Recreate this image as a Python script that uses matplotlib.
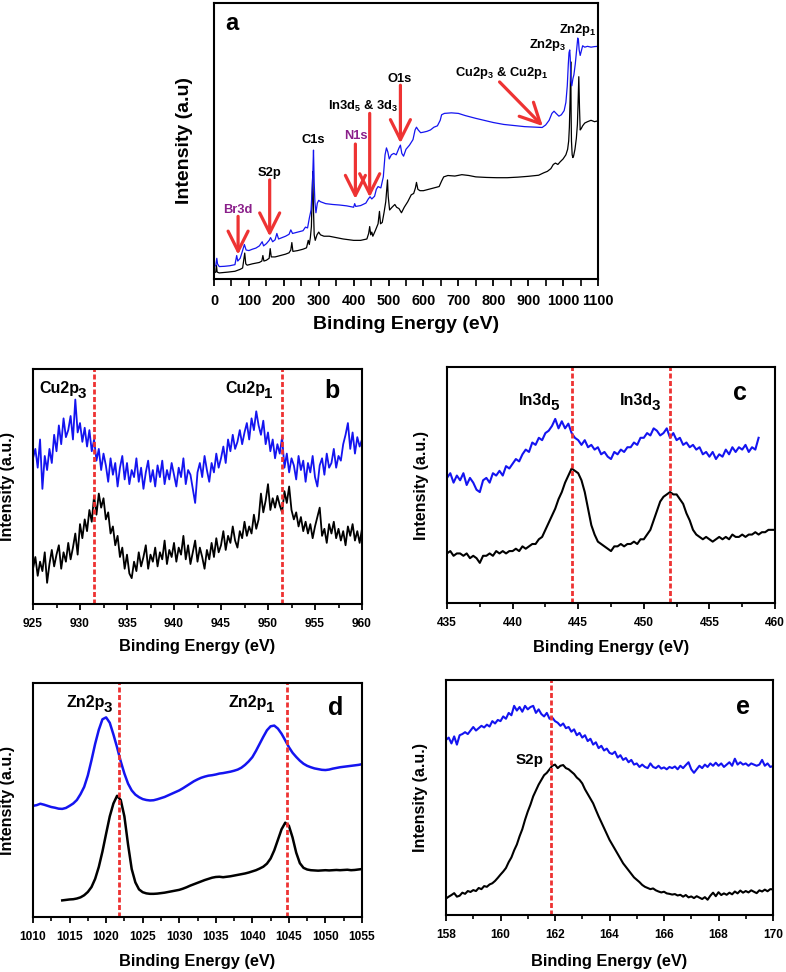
import numpy as np
import matplotlib
matplotlib.use("Agg")
import matplotlib.pyplot as plt
from matplotlib.ticker import MultipleLocator, NullLocator

plt.rcParams['font.family'] = ['Liberation Sans', 'DejaVu Sans']
plt.rcParams['font.weight'] = 'bold'
plt.rcParams['mathtext.fontset'] = 'custom'
plt.rcParams['mathtext.rm'] = 'Liberation Sans:bold'
plt.rcParams['mathtext.it'] = 'Liberation Sans:bold'
plt.rcParams['mathtext.bf'] = 'Liberation Sans:bold'

BLUE = '#1414f0'
BLACK = '#000000'
RED = '#ee3333'
PURPLE = '#8a1f8a'

# ---------------- panel a: survey spectra ----------------
survey_blue_e = [0, 5, 8, 10, 15, 30, 45, 60, 65, 68, 75, 80, 87, 92, 100, 110, 120, 130, 138, 142,
                 150, 158, 162, 168, 175, 180, 185, 195, 205, 215, 220, 225, 240, 255, 262, 268, 273, 278,
                 281, 283, 285, 287, 289, 292, 296, 300, 305, 320, 340, 360, 380, 400, 403, 406, 420, 435,
                 442, 447, 452, 460, 465, 470, 478, 485, 490, 494, 498, 502, 508, 515, 522, 530, 534, 538,
                 543, 550, 560, 570, 576, 580, 585, 592, 600, 610, 620, 630, 640, 648, 652, 660, 680, 700,
                 720, 750, 780, 800, 830, 860, 890, 920, 940, 950, 960, 968, 974, 980, 988, 995, 1003, 1008,
                 1012, 1015, 1017, 1019, 1020.5, 1022, 1025, 1028, 1031, 1035, 1038, 1040, 1042, 1044, 1046,
                 1049, 1052, 1056, 1062, 1070, 1080, 1090, 1100]
survey_blue_i = [4.6, 4.8, 7.5, 5.5, 4.5, 4.6, 4.8, 5.2, 8.5, 6.5, 7.5, 9.5, 12.5, 10.5, 10.3, 10.8, 11.2, 12.0, 13.5, 12.0,
                 12.8, 14.0, 15.0, 13.5, 14.2, 16.5, 14.5, 15.0, 15.5, 16.2, 17.8, 16.5, 17.0, 17.5, 18.8, 18.5, 22.0, 25.0,
                 32.0, 38.0, 46.7, 35.0, 28.0, 24.0, 27.5, 28.5, 28.0, 27.3, 27.0, 26.8, 26.5, 26.0, 27.3, 26.3, 26.6, 27.5,
                 29.0, 29.8, 29.0, 30.0, 32.5, 33.5, 33.0, 37.0, 45.0, 47.5, 46.0, 43.5, 45.0, 45.5, 45.0, 47.5, 48.5, 45.5,
                 44.5, 47.0, 48.5, 50.5, 54.0, 55.0, 54.0, 53.0, 53.2, 53.5, 54.0, 55.0, 55.5, 57.5, 59.5, 60.0, 60.2, 60.0,
                 59.2, 58.2, 57.3, 56.7, 56.0, 55.6, 55.2, 55.0, 54.9, 55.8, 57.5, 60.0, 60.8, 60.0, 59.0, 59.5, 61.0, 64.0,
                 70.0, 78.0, 82.0, 83.0, 80.0, 72.0, 70.0, 72.5, 74.0, 78.0, 82.0, 85.0, 87.3, 86.5, 83.0,
                 81.0, 82.5, 84.5, 84.0, 84.3, 84.0, 84.2, 84.3]

survey_black_e = [0, 5, 7, 9, 15, 40, 60, 75, 82, 86, 88, 91, 95, 110, 130, 137, 140, 143, 150, 158,
                  161, 164, 175, 190, 205, 215, 220, 223, 226, 240, 255, 265, 270, 273, 276, 279, 281, 283,
                  285, 287, 290, 295, 300, 305, 315, 330, 350, 370, 400, 420, 438, 443, 446, 449, 452, 455,
                  462, 470, 474, 477, 482, 487, 492, 495, 497, 499, 503, 510, 518, 523, 530, 537, 545, 555,
                  565, 572, 577, 580, 584, 590, 600, 615, 630, 645, 652, 658, 670, 690, 710, 730, 750, 780,
                  810, 840, 870, 900, 930, 945, 955, 965, 972, 978, 985, 992, 1000, 1008, 1013, 1016, 1018,
                  1020, 1022, 1023, 1024, 1026, 1028, 1030, 1034, 1038, 1041, 1043, 1045, 1047, 1049, 1052,
                  1056, 1062, 1070, 1080, 1090, 1100]
survey_black_i = [2.2, 2.5, 5.0, 2.5, 2.2, 2.5, 2.8, 3.5, 4.0, 7.5, 9.4, 5.5, 5.0, 5.5, 6.0, 6.5, 8.5, 6.5, 6.8, 7.5,
                  11.0, 8.0, 8.0, 8.5, 9.0, 9.5, 10.5, 13.2, 10.0, 10.3, 10.8, 11.3, 14.0, 12.5, 15.0, 19.0, 30.0, 38.9,
                  25.0, 16.0, 14.0, 16.0, 17.0, 16.0, 15.5, 15.5, 15.0, 14.5, 14.0, 14.0, 14.5, 16.5, 19.0, 16.0, 17.0, 15.5,
                  17.5, 20.0, 24.5, 20.0, 20.5, 24.0, 28.0, 33.0, 35.9, 30.0, 25.0, 26.0, 27.0, 26.0, 25.5, 24.0, 26.0, 28.0,
                  30.5, 31.0, 33.0, 35.0, 32.5, 32.0, 32.0, 32.5, 33.0, 33.5, 35.5, 37.0, 37.5, 37.3, 37.8, 37.5, 37.0, 36.8,
                  36.7, 36.7, 36.9, 37.2, 37.6, 38.5, 39.0, 40.0, 41.5, 42.0, 41.5, 42.5, 43.5, 45.0, 47.0, 50.0, 55.0,
                  65.0, 78.7, 60.0, 50.0, 45.0, 44.0, 44.5, 47.0, 51.0, 56.0, 64.0, 73.3, 62.0, 54.0, 54.5,
                  55.5, 56.5, 57.0, 57.5, 57.0, 57.3]

# ---------------- panel b: Cu 2p ----------------
cu_start, cu_stop, cu_step = 925.0, 960.0, 0.25
cu_blue = [62, 66, 58, 70, 49, 63, 57, 66, 60, 72, 65, 76, 68, 79, 71, 74, 80, 70, 87, 73,
           77, 69, 75, 67, 74, 65, 70, 61, 66, 57, 64, 59, 52, 62, 55, 60, 50, 58, 63, 53,
           60, 51, 57, 54, 62, 52, 58, 49, 56, 61, 52, 57, 50, 59, 54, 61, 51, 57, 53, 60,
           55, 50, 58, 54, 62, 51, 57, 55, 49, 43, 56, 60, 54, 63, 57, 52, 60, 56, 64, 58,
           62, 67, 60, 70, 65, 72, 66, 69, 74, 68, 73, 77, 70, 79, 74, 82, 76, 72, 78, 68,
           73, 65, 70, 62, 68, 64, 71, 58, 64, 56, 62, 59, 53, 63, 57, 61, 52, 60, 56, 63,
           54, 50, 59, 62, 55, 64, 58, 60, 66, 58, 63, 61, 68, 72, 77, 66, 73, 64, 71, 67, 70]
cu_black = [15, 20, 12, 18, 14, 22, 9, 17, 23, 16, 21, 25, 15, 22, 18, 26, 19, 24, 30, 21,
            34, 28, 36, 31, 40, 35, 46, 38, 47, 41, 45, 36, 39, 30, 33, 25, 29, 20, 24, 15,
            21, 13, 11, 18, 14, 22, 16, 20, 25, 15, 21, 18, 24, 16, 22, 19, 27, 17, 23, 20,
            26, 18, 24, 21, 29, 19, 25, 17, 22, 27, 18, 24, 20, 15, 23, 19, 26, 20, 28, 22,
            25, 31, 23, 29, 26, 33, 27, 24, 31, 28, 35, 29, 33, 30, 38, 32, 36, 47, 39, 44,
            51, 40, 45, 41, 46, 42, 39, 48, 43, 50, 40, 36, 39, 33, 37, 31, 35, 30, 34, 28,
            33, 37, 41, 29, 32, 26, 34, 30, 35, 28, 32, 27, 31, 25, 33, 29, 34, 27, 31, 26, 32]
cu_lines = [931.5, 951.5]

# ---------------- panel c: In 3d ----------------
in_step = 0.25
in_blue_start, in_blue_stop = 435.0, 458.75
in_blue = [53, 55, 51, 54, 52, 55, 50, 53, 51, 48, 47, 52, 53, 51, 55, 54, 56, 54, 58, 57,
           59, 61, 60, 63, 65, 64, 68, 67, 70, 69, 72, 73, 75, 78, 74, 77, 74, 76, 72, 70,
           69, 67, 69, 66, 67, 65, 66, 63, 64, 62, 61, 64, 63, 65, 64, 66, 66, 68, 67, 70,
           70, 72, 71, 74, 73, 71, 72, 74, 70, 72, 69, 70, 67, 68, 66, 67, 65, 66, 63, 64,
           62, 64, 61, 63, 62, 65, 63, 66, 64, 66, 65, 67, 64, 66, 65, 70]
in_black_start, in_black_stop = 435.0, 460.0
in_black = [21, 22, 20, 21, 21, 20, 21, 19, 20, 19, 17, 20, 20, 21, 20, 22, 21, 22, 21, 22,
            22, 23, 22, 24, 23, 24, 25, 25, 27, 28, 31, 34, 37, 40, 44, 47, 51, 54, 57, 56,
            55, 52, 47, 40, 33, 29, 26, 25, 24, 23, 22, 24, 24, 25, 24, 25, 25, 26, 25, 27,
            27, 29, 31, 35, 39, 43, 45, 46, 47, 46, 46, 44, 42, 38, 35, 31, 29, 28, 27, 28,
            27, 26, 27, 28, 27, 28, 27, 29, 28, 28, 29, 28, 29, 29, 30, 29, 30, 30, 31, 31, 31]
in_lines = [444.5, 452.0]

# ---------------- panel d: Zn 2p ----------------
zn_step = 0.5
zn_blue_start, zn_blue_stop = 1010.0, 1055.0
zn_blue = [47.5, 47.8, 48.4, 48.0, 47.5, 47.0, 46.7, 46.3, 46.2, 46.6, 47.5, 48.5, 50.0, 52.5, 55.6, 60.5,
           67.0, 74.0, 80.0, 84.5, 85.3, 83.0, 78.0, 72.5, 66.5, 61.3, 57.0, 54.1, 52.3, 51.2, 50.4, 50.0,
           49.8, 49.9, 50.3, 50.8, 51.3, 52.0, 52.7, 53.4, 54.1, 55.0, 56.0, 57.0, 58.0, 58.8, 59.5, 60.0,
           60.4, 60.6, 60.9, 61.3, 61.5, 61.8, 62.1, 62.5, 63.0, 63.8, 65.0, 66.5, 68.3, 71.0, 74.0, 77.0,
           79.8, 81.5, 81.8, 80.5, 78.3, 75.5, 72.6, 70.2, 68.4, 66.8, 65.5, 64.6, 64.0, 63.5, 63.2, 62.9,
           62.8, 63.0, 63.4, 63.7, 64.0, 64.2, 64.4, 64.6, 64.8, 65.0, 65.3]
zn_black_start, zn_black_stop = 1014.0, 1055.0
zn_black = [7.1, 7.3, 7.5, 7.6, 7.9, 8.4, 9.3, 10.7, 12.8, 16.3, 21.4, 28.0, 35.6, 43.0, 48.5, 51.8,
            50.0, 43.0, 31.0, 20.5, 14.8, 11.8, 10.6, 10.1, 9.9, 9.9, 10.0, 10.2, 10.4, 10.7, 11.0, 11.3,
            11.6, 12.1, 12.7, 13.4, 14.0, 14.6, 15.2, 15.8, 16.3, 16.8, 17.1, 17.2, 17.0, 17.2, 17.4, 17.7,
            18.0, 18.3, 18.6, 19.0, 19.5, 20.0, 20.7, 21.5, 22.8, 25.0, 28.5, 33.0, 37.5, 40.3, 39.0, 34.0,
            27.5, 23.0, 21.0, 20.3, 20.0, 19.9, 19.8, 19.9, 20.0, 19.9, 20.0, 20.1, 20.0, 20.1, 20.2, 20.0,
            20.1, 20.3, 20.5]
zn_lines = [1021.7, 1044.7]

# ---------------- panel e: S 2p ----------------
s_start, s_stop, s_step = 158.0, 170.0, 0.1
s_blue = [74.5, 75.5, 73.0, 76.0, 72.5, 76.5, 77.0, 77.8, 77.0, 78.5, 80.0, 78.5, 79.5, 80.5, 79.8, 81.0,
          80.2, 82.5, 81.5, 83.0, 82.5, 84.5, 83.5, 86.0, 85.0, 89.0, 87.0, 88.5, 86.5, 89.0, 87.5, 88.5,
          89.0, 86.0, 87.5, 85.5, 84.5, 86.0, 83.5, 84.0, 82.5, 81.8, 80.5, 81.5, 79.5, 80.0, 78.0, 79.0,
          76.5, 77.5, 75.5, 76.5, 74.0, 75.0, 72.5, 73.5, 71.0, 72.0, 70.0, 70.8, 69.0, 68.5, 69.5, 67.0,
          68.0, 66.0, 66.8, 65.0, 66.0, 64.0, 64.5, 63.0, 64.0, 63.0, 62.5, 64.5, 63.0, 62.5, 63.5, 62.3,
          62.8, 62.0, 63.0, 62.5, 63.2, 62.0, 63.5, 62.5, 63.8, 65.0, 62.0, 60.5, 62.0, 63.5, 62.5, 64.0,
          63.0, 64.5, 63.5, 64.8, 63.5, 64.5, 63.0, 64.0, 65.0, 63.5, 66.5, 64.0, 65.0, 64.0, 64.5, 63.5,
          64.5, 64.0, 63.5, 64.0, 66.0, 63.5, 64.5, 63.0, 63.4]
s_black = [7.0, 7.8, 8.5, 9.3, 7.8, 8.2, 9.5, 9.0, 10.2, 9.8, 10.6, 10.2, 11.5, 11.0, 12.3, 12.0,
           13.0, 13.5, 14.5, 15.8, 17.2, 18.5, 20.0, 22.5, 24.5, 27.5, 30.0, 33.5, 36.5, 40.5, 44.0, 47.0,
           50.5, 53.0, 55.5, 57.5, 59.5, 60.5, 62.0, 63.5, 64.0, 62.5, 63.5, 63.8, 62.5, 62.0, 61.0, 60.0,
           58.5, 57.5, 56.0, 53.5, 51.5, 49.5, 47.5, 44.7, 42.0, 39.5, 37.0, 34.5, 32.0, 30.0, 28.0, 26.0,
           24.0, 22.0, 20.5, 19.0, 17.5, 16.0, 15.0, 14.0, 12.8, 12.0, 11.5, 11.0, 11.3, 10.5, 10.0, 9.6,
           9.9, 9.2, 9.0, 8.7, 8.9, 8.3, 8.6, 7.8, 8.5, 7.5, 7.9, 7.2, 8.0, 7.4, 6.8, 7.6,
           6.5, 8.2, 9.5, 8.0, 9.7, 8.5, 9.2, 8.6, 9.5, 8.8, 10.0, 9.2, 10.4, 9.5, 10.2, 9.6,
           10.5, 9.9, 9.3, 10.5, 10.0, 10.8, 10.1, 11.0, 10.9]
s_lines = [161.85]


def grid(start, stop, step):
    return np.arange(start, stop + step / 2, step)


W, H = 786, 972
fig = plt.figure(figsize=(W / 100, H / 100), dpi=100)


def px_axes(left, top, right, bottom):
    return fig.add_axes([left / W, 1 - bottom / H, (right - left) / W, (bottom - top) / H])


def style(ax, xlim, major, minor, tick_fs, maj_len, min_len, pad, xl_fs, xl_y, yl_fs, yl_text):
    ax.set_xlim(*xlim)
    ax.set_ylim(0, 100)
    ax.xaxis.set_major_locator(MultipleLocator(major))
    ax.xaxis.set_minor_locator(MultipleLocator(minor))
    ax.yaxis.set_major_locator(NullLocator())
    ax.tick_params(axis='x', which='major', direction='out', length=maj_len, width=1.3,
                   labelsize=tick_fs, pad=pad)
    ax.tick_params(axis='x', which='minor', direction='out', length=min_len, width=1.2)
    for s in ax.spines.values():
        s.set_linewidth(1.5)
    ax.set_xlabel('Binding Energy (eV)', fontsize=xl_fs, fontweight='bold')
    ax.xaxis.set_label_coords(0.5, xl_y)
    ax.set_ylabel(yl_text, fontsize=yl_fs, fontweight='bold')
    ax.yaxis.set_label_coords(-0.055, 0.5)


# ---- panel a ----
axa = px_axes(214, 3, 598, 279)
axa.plot(survey_black_e, survey_black_i, color=BLACK, lw=0.9)
axa.plot(survey_blue_e, survey_blue_i, color=BLUE, lw=0.9)
style(axa, (0, 1100), 100, 50, 10.4, 5, 5, 6, 14, -0.135, 14, 'Intensity (a.u)')
axa.text(0.047, 0.927, 'a', transform=axa.transAxes, fontsize=17, fontweight='bold',
         ha='center', va='center')

a_labels = [('Br3d', 68, 25.0, PURPLE), ('S2p', 160, 38.3, BLACK), ('C1s', 284, 50.4, BLACK),
            ('N1s', 406, 51.8, PURPLE), (r'In3d$_5$ & 3d$_3$', 427, 62.4, BLACK),
            ('O1s', 532, 72.3, BLACK), (r'Cu2p$_3$ & Cu2p$_1$', 823, 74.7, BLACK),
            (r'Zn2p$_3$', 957, 84.7, BLACK), (r'Zn2p$_1$', 1043, 90.1, BLACK)]
for txt, x, y, c in a_labels:
    axa.text(x, y, txt, color=c, fontsize=9.3, fontweight='bold', ha='center', va='center')

a_arrows = [((69, 22.7), (69, 8.8)), ((159.5, 35.9), (159.5, 15.4)), ((405, 48.9), (405, 29.0)),
            ((446, 60.0), (446, 29.6)), ((534, 70.2), (534, 49.2)), ((818, 71.4), (942, 55.4))]
for tail, tip in a_arrows:
    axa.annotate('', xy=tip, xytext=tail,
                 arrowprops=dict(arrowstyle='->,head_length=0.6,head_width=0.3', color=RED, lw=2.3,
                                 mutation_scale=24, shrinkA=0, shrinkB=0))


def sub_label(ax, xend, y, main, sub, fs=11.5):
    ax.text(xend, y, main, transform=ax.transAxes, fontsize=fs, fontweight='bold', ha='right', va='center')
    ax.text(xend - 0.004, y - 0.022, sub, transform=ax.transAxes, fontsize=fs * 0.95, fontweight='bold',
            ha='left', va='center')


def panel_letter(ax, x, y, letter):
    ax.text(x, y, letter, transform=ax.transAxes, fontsize=18, fontweight='bold', ha='center', va='center')


def vlines(ax, xs):
    for x in xs:
        ax.axvline(x, color=RED, lw=2, ls=(0, (1.8, 0.9)))


# ---- panel b ----
axb = px_axes(33, 369, 362, 604)
xb = grid(cu_start, cu_stop, cu_step)
axb.plot(xb, cu_blue, color=BLUE, lw=1.3)
axb.plot(xb, cu_black, color=BLACK, lw=1.3)
vlines(axb, cu_lines)
style(axb, (925, 960), 5, 2.5, 8.6, 4, 3, 6, 11.8, -0.15, 11.5, 'Intensity (a.u.)')
sub_label(axb, 0.141, 0.915, 'Cu2p', '3')
sub_label(axb, 0.705, 0.915, 'Cu2p', '1')
panel_letter(axb, 0.91, 0.905, 'b')

# ---- panel c ----
axc = px_axes(447, 367, 775, 603)
axc.plot(grid(in_blue_start, in_blue_stop, in_step), in_blue, color=BLUE, lw=1.5)
axc.plot(grid(in_black_start, in_black_stop, in_step), in_black, color=BLACK, lw=1.5)
vlines(axc, in_lines)
style(axc, (435, 460), 5, 2.5, 8.6, 4, 3, 6, 11.8, -0.155, 11.5, 'Intensity (a.u.)')
sub_label(axc, 0.320, 0.856, 'In3d', '5')
sub_label(axc, 0.628, 0.856, 'In3d', '3')
panel_letter(axc, 0.893, 0.89, 'c')

# ---- panel d ----
axd = px_axes(33, 683, 362, 917)
axd.plot(grid(zn_blue_start, zn_blue_stop, zn_step), zn_blue, color=BLUE, lw=1.8)
axd.plot(grid(zn_black_start, zn_black_stop, zn_step), zn_black, color=BLACK, lw=1.8)
vlines(axd, zn_lines)
style(axd, (1010, 1055), 5, 2.5, 8.6, 4, 3, 6, 11.8, -0.16, 11.5, 'Intensity (a.u.)')
sub_label(axd, 0.219, 0.915, 'Zn2p', '3')
sub_label(axd, 0.711, 0.915, 'Zn2p', '1')
panel_letter(axd, 0.92, 0.895, 'd')

# ---- panel e ----
axe = px_axes(446, 680, 773, 915)
xe = grid(s_start, s_stop, s_step)
axe.plot(xe, s_blue, color=BLUE, lw=1.5)
axe.plot(xe, s_black, color=BLACK, lw=1.5)
vlines(axe, s_lines)
style(axe, (158, 170), 2, 1, 8.6, 4, 3, 6, 11.8, -0.165, 11.5, 'Intensity (a.u.)')
axe.text(0.257, 0.66, 'S2p', transform=axe.transAxes, fontsize=11, fontweight='bold',
         ha='center', va='center')
panel_letter(axe, 0.908, 0.885, 'e')

fig.savefig('out.png', dpi=100)
